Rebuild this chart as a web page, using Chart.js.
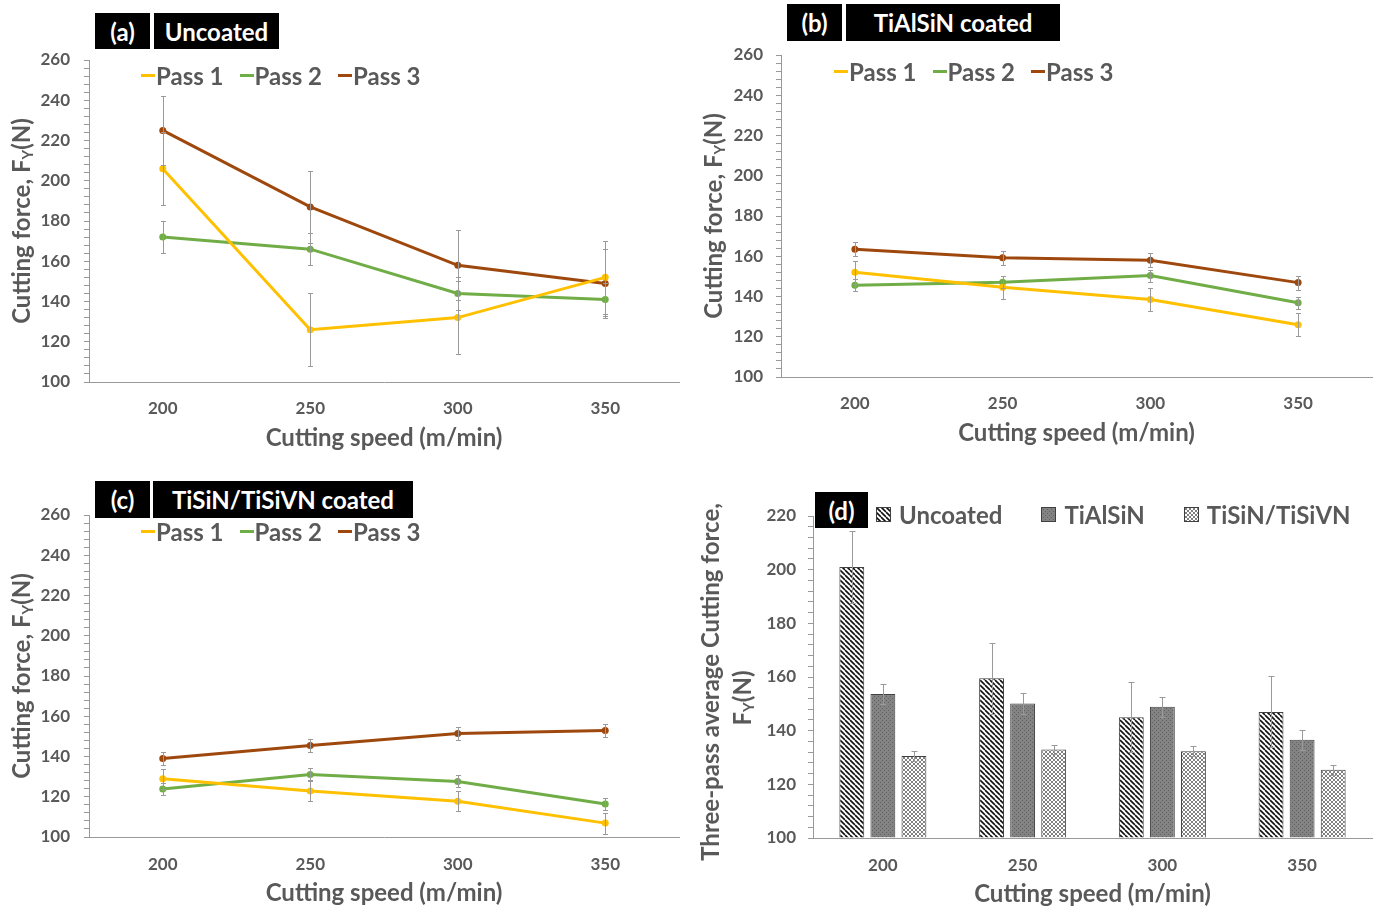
<!DOCTYPE html>
<html>
<head>
<meta charset="utf-8">
<script src="https://cdn.jsdelivr.net/npm/chart.js@4.4.1/dist/chart.umd.min.js"></script>
<style>
body{margin:0;background:#fff;}
#wrap{position:relative;width:1381px;height:914px;overflow:hidden;background:#fff;}
#wrap canvas{position:absolute;}
.tag{position:absolute;background:#000;color:#fff;font:bold 24px Lato,sans-serif;display:flex;align-items:center;justify-content:center;}
.legend{position:absolute;display:flex;align-items:center;height:28px;font:bold 24px Lato,sans-serif;color:#595959;white-space:nowrap;}
.item{display:flex;align-items:center;margin-right:16px;}
.mark{display:inline-block;width:14px;height:3px;margin-right:1px;}
.box{margin-right:8px;}
.barItem{display:flex;align-items:center;margin-right:39px;}
</style>
</head>
<body>
<div id="wrap">
<canvas id="chartA" width="690" height="460" style="left:0;top:0"></canvas>
<canvas id="chartB" width="691" height="460" style="left:690px;top:0"></canvas>
<canvas id="chartC" width="690" height="454" style="left:0;top:460px"></canvas>
<canvas id="chartD" width="691" height="454" style="left:690px;top:460px"></canvas>

<div class="tag" style="left:95px;top:13px;width:55px;height:36px">(a)</div>
<div class="tag" style="left:154px;top:13px;width:125px;height:36px">Uncoated</div>
<div class="tag" style="left:787px;top:4px;width:55px;height:37px">(b)</div>
<div class="tag" style="left:846px;top:4px;width:214px;height:37px">TiAlSiN coated</div>
<div class="tag" style="left:95px;top:481px;width:55px;height:37px">(c)</div>
<div class="tag" style="left:153px;top:481px;width:260px;height:37px">TiSiN/TiSiVN coated</div>

<div class="legend" id="legendA" style="left:141px;top:61px"></div>
<div class="legend" id="legendB" style="left:834px;top:57px"></div>
<div class="legend" id="legendC" style="left:141px;top:517px"></div>
<div class="legend" id="legendD" style="left:876px;top:500px"></div>
<div class="tag" style="left:815px;top:492px;width:53px;height:36px">(d)</div>
</div>

<script>
/* Data */

const speeds=["200","250","300","350"];
const passNames=["Pass 1","Pass 2","Pass 3"];
const passColors=["#FFC000","#70AD47","#9E480E"];

/* (a) Uncoated */
const uncoatedPass1=[206,126,132,152];
const uncoatedPass2=[172,166,144,141];
const uncoatedPass3=[225,187,158,149];
const uncoatedErr1=[18,18,18,18];
const uncoatedErr2=[8,8,8,8];
const uncoatedErr3=[17,18,17.5,17];

/* (b) TiAlSiN coated */
const tialsinPass1=[152,144.6,138.5,126];
const tialsinPass2=[145.6,147.1,150.4,136.9];
const tialsinPass3=[163.5,159.3,158,146.9];
const tialsinErr1=[5.8,5.6,5.8,5.6];
const tialsinErr2=[3,3,3,3];
const tialsinErr3=[3.6,3.5,3.5,3.5];

/* (c) TiSiN/TiSiVN coated */
const tisinPass1=[129,122.9,117.8,106.9];
const tisinPass2=[123.8,131.1,127.6,116.4];
const tisinPass3=[139,145.5,151.4,152.9];
const tisinErr1=[5,5,5,5.2];
const tisinErr2=[3,3,3,3];
const tisinErr3=[3.3,3.2,3.2,3.2];

/* (d) three-pass average */
const coatingNames=["Uncoated","TiAlSiN","TiSiN/TiSiVN"];
const avgUncoated=[201,159.5,145,147];
const avgTialsin=[153.7,150.1,148.9,136.6];
const avgTisin=[130.6,133,132.3,125.4];
const avgUncoatedErr=[13.3,13.2,13.1,13.2];
const avgTialsinErr=[3.8,3.8,3.8,3.7];
const avgTisinErr=[1.8,1.8,1.8,1.8];

/* Styles */

const textColor="#595959";
const axisColor="#999999";
Chart.defaults.font.family="Lato";
Chart.defaults.animation=false;

/* Plugins */

const errorBars={
id:"errorBars",
afterDatasetsDraw(chart,args,opts){
const c=chart.ctx;
const y=chart.scales.y;
const cap=opts.cap||3;
c.save();
c.strokeStyle="#9a9a9a";
c.lineWidth=1;
chart.data.datasets.forEach((ds,i)=>{
const meta=chart.getDatasetMeta(i);
ds.errors.forEach((e,j)=>{
const x=Math.round(meta.data[j].x)+0.5;
const top=Math.round(y.getPixelForValue(ds.data[j]+e))+0.5;
const bot=Math.round(y.getPixelForValue(ds.data[j]-e))+0.5;
c.beginPath();
c.moveTo(x,top);c.lineTo(x,bot);
c.moveTo(x-cap,top);c.lineTo(x+cap,top);
c.moveTo(x-cap,bot);c.lineTo(x+cap,bot);
c.stroke();
});
});
c.restore();
}
};

const yTitle={
id:"yTitle",
afterDraw(chart,args,opts){
const c=chart.ctx;
const area=chart.chartArea;
c.save();
c.fillStyle=textColor;
c.textBaseline="middle";
c.textAlign="left";
opts.lines.forEach(line=>{
const cy=(area.top+area.bottom)/2+(line.dy||0);
c.save();
c.translate(line.x,cy);
c.rotate(-Math.PI/2);
let total=0;
line.parts.forEach(p=>{
c.font=p.sub?"bold 15px Lato":"bold 24px Lato";
total+=c.measureText(p.text).width;
});
let x=-total/2;
line.parts.forEach(p=>{
c.font=p.sub?"bold 15px Lato":"bold 24px Lato";
c.fillText(p.text,x,p.sub?6:0);
x+=c.measureText(p.text).width;
});
c.restore();
});
c.restore();
}
};

const forceParts=[{text:"Cutting force, F"},{text:"Y",sub:true},{text:"(N)"}];

/* Line charts */

function makeLineChart(id,passes,errs,g){
return new Chart(document.getElementById(id),{
type:"line",
data:{
labels:speeds,
datasets:passes.map((d,i)=>({
label:passNames[i],
data:d,
errors:errs[i],
borderColor:passColors[i],
backgroundColor:passColors[i],
borderWidth:3,
pointRadius:2,
pointHoverRadius:2,
tension:0
}))
},
plugins:[errorBars,yTitle],
options:{
responsive:false,
layout:{padding:{top:g.top,right:g.right,left:0,bottom:0}},
plugins:{
legend:{display:false},
tooltip:{enabled:false},
errorBars:{cap:2.5},
yTitle:{lines:[{x:g.titleX,parts:forceParts}]}
},
scales:{
x:{
offset:true,
grid:{display:false,drawTicks:false},
border:{color:axisColor},
ticks:{padding:g.tickPad,color:textColor,font:{size:17,weight:"bold"}},
title:{display:true,text:"Cutting speed (m/min)",color:textColor,font:{size:24,weight:"bold"},padding:{top:0,bottom:g.titlePad}},
afterFit(s){s.height=g.xHeight;}
},
y:{
min:100,max:260,
ticks:{stepSize:4,autoSkip:false,padding:g.yPad,color:textColor,font:{size:17,weight:"bold"},callback:v=>v%20===0?v:""},
grid:{drawOnChartArea:false,tickLength:5,color:axisColor},
border:{color:axisColor},
afterFit(s){s.width=g.yWidth;}
}
}
}
});
}

makeLineChart("chartA",[uncoatedPass1,uncoatedPass2,uncoatedPass3],[uncoatedErr1,uncoatedErr2,uncoatedErr3],
{top:60,right:11,yWidth:89,xHeight:78,tickPad:16,titlePad:7,titleX:22,yPad:14});
makeLineChart("chartB",[tialsinPass1,tialsinPass2,tialsinPass3],[tialsinErr1,tialsinErr2,tialsinErr3],
{top:55,right:9,yWidth:91,xHeight:83,tickPad:16,titlePad:12,titleX:24,yPad:13});
makeLineChart("chartC",[tisinPass1,tisinPass2,tisinPass3],[tisinErr1,tisinErr2,tisinErr3],
{top:55,right:11,yWidth:89,xHeight:77,tickPad:17,titlePad:6,titleX:22,yPad:14});

/* Line legends */

["legendA","legendB","legendC"].forEach(id=>{
const el=document.getElementById(id);
passNames.forEach((n,i)=>{
const item=document.createElement("span");
item.className="item";
const m=document.createElement("span");
m.className="mark";
m.style.background=passColors[i];
item.appendChild(m);
item.appendChild(document.createTextNode(n));
el.appendChild(item);
});
});

/* Fill patterns */

function patternCanvas(size,draw){
const c=document.createElement("canvas");
c.width=size;c.height=size;
draw(c.getContext("2d"),size);
return c;
}

const hatchCanvas=patternCanvas(5,(g,s)=>{
g.fillStyle="#fff";g.fillRect(0,0,s,s);
g.strokeStyle="#111";g.lineWidth=1.6;
[-s,0,s].forEach(o=>{g.beginPath();g.moveTo(o,0);g.lineTo(o+s,s);g.stroke();});
});
const darkCanvas=patternCanvas(4,(g,s)=>{
g.fillStyle="#838383";g.fillRect(0,0,s,s);
g.fillStyle="#606060";g.fillRect(0,0,1,1);g.fillRect(2,2,1,1);
});
const checkCanvas=patternCanvas(4,(g,s)=>{
g.fillStyle="#fff";g.fillRect(0,0,s,s);
g.strokeStyle="#808080";g.lineWidth=1;
g.beginPath();g.moveTo(0,0);g.lineTo(s,s);g.moveTo(0,s);g.lineTo(s,0);g.stroke();
});

const dctx=document.getElementById("chartD").getContext("2d");
const coatingFills=[hatchCanvas,darkCanvas,checkCanvas].map(c=>dctx.createPattern(c,"repeat"));

/* Bar chart (d) */

new Chart(document.getElementById("chartD"),{
type:"bar",
data:{
labels:speeds,
datasets:[avgUncoated,avgTialsin,avgTisin].map((d,i)=>({
label:coatingNames[i],
data:d,
errors:[avgUncoatedErr,avgTialsinErr,avgTisinErr][i],
backgroundColor:coatingFills[i],
borderColor:"#404040",
borderWidth:1,
base:100,
categoryPercentage:0.667,
barPercentage:0.8
}))
},
plugins:[errorBars,yTitle],
options:{
responsive:false,
layout:{padding:{top:56,right:9,left:0,bottom:0}},
plugins:{
legend:{display:false},
tooltip:{enabled:false},
errorBars:{cap:3},
yTitle:{lines:[
{x:21,dy:5,parts:[{text:"Three-pass average Cutting force,"}]},
{x:53,dy:21,parts:[{text:"F"},{text:"Y",sub:true},{text:"(N)"}]}
]}
},
scales:{
x:{
grid:{display:false,drawTicks:false},
border:{color:axisColor},
ticks:{padding:17,color:textColor,font:{size:17,weight:"bold"}},
title:{display:true,text:"Cutting speed (m/min)",color:textColor,font:{size:24,weight:"bold"},padding:{top:0,bottom:5}},
afterFit(s){s.height=76;}
},
y:{
min:100,max:220,
ticks:{stepSize:4,autoSkip:false,padding:12,color:textColor,font:{size:17,weight:"bold"},callback:v=>v%20===0?v:""},
grid:{drawOnChartArea:false,tickLength:5,color:axisColor},
border:{color:axisColor},
afterFit(s){s.width=123;}
}
}
}
});

/* Bar legend */

const legendD=document.getElementById("legendD");
coatingNames.forEach((n,i)=>{
const item=document.createElement("span");
item.className="barItem";
const b=document.createElement("canvas");
b.width=15;b.height=15;
b.className="box";
const g=b.getContext("2d");
g.fillStyle=g.createPattern([hatchCanvas,darkCanvas,checkCanvas][i],"repeat");
g.fillRect(0,0,15,15);
g.strokeStyle="#404040";g.strokeRect(0.5,0.5,14,14);
b.style.position="static";
item.appendChild(b);
item.appendChild(document.createTextNode(n));
legendD.appendChild(item);
});
</script>
</body>
</html>
